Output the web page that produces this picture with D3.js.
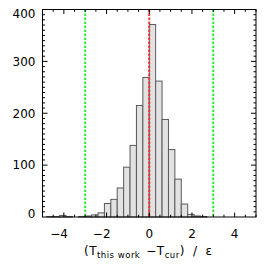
<!DOCTYPE html>
<html>
<head>
<meta charset="utf-8">
<script src="https://cdn.jsdelivr.net/npm/d3@7.9.0/dist/d3.min.js"></script>
<style>
  html, body { margin: 0; padding: 0; background: #fff; }
  svg { display: block; }
  text { font-family: "DejaVu Sans", sans-serif; fill: #000; }
</style>
</head>
<body>
<div id="chart"></div>
<script>
// ---------- Data ----------

// histogram bin edges start at -4.8, width 0.3
const binStart = -4.8;
const binWidth = 0.3;
const counts = [
  1, 1, 3, 1, 0, 1, 2, 4, 8, 26, 34, 56, 96, 138,
  215, 269, 371, 262, 188, 130, 73, 25, 5, 2, 1
];

const xTicks = [-4, -2, 0, 2, 4];
const yTicks = [0, 100, 200, 300, 400];
const limitLines = [-3, 3];   // green dashed
const zeroLine = [0];         // red dashed

// ---------- Layout ----------
const width = 269, height = 265;
const mLeft = 42.5, mRight = 256, mTop = 9.5, mBottom = 217;

const x = d3.scaleLinear().domain([-5, 5]).range([mLeft, mRight]);
const y = d3.scaleLinear().domain([0, 400]).range([mBottom, mTop]);

const svg = d3.select("#chart").append("svg")
  .attr("width", width)
  .attr("height", height);

// bins built from counts
const bins = counts.map((c, i) => ({
  x0: binStart + i * binWidth,
  x1: binStart + (i + 1) * binWidth,
  count: c
}));

// ---------- Bars ----------
svg.append("g")
  .selectAll("rect")
  .data(bins.filter(d => d.count > 0))
  .join("rect")
  .attr("x", d => x(d.x0))
  .attr("y", d => y(d.count))
  .attr("width", d => x(d.x1) - x(d.x0))
  .attr("height", d => y(0) - y(d.count))
  .attr("fill", "#e2e2e2")
  .attr("stroke", "#5a5a5a")
  .attr("stroke-width", 1);

// ---------- Dashed lines ----------
svg.append("g")
  .selectAll("line")
  .data(limitLines)
  .join("line")
  .attr("x1", d => x(d)).attr("x2", d => x(d))
  .attr("y1", mTop).attr("y2", mBottom)
  .attr("stroke", "#38ec38")
  .attr("stroke-width", 2)
  .attr("stroke-dasharray", "2.5,1.5");

svg.append("g")
  .selectAll("line")
  .data(zeroLine)
  .join("line")
  .attr("x1", d => x(d)).attr("x2", d => x(d))
  .attr("y1", mTop).attr("y2", mBottom)
  .attr("stroke", "#f53535")
  .attr("stroke-width", 2)
  .attr("stroke-dasharray", "2.5,1.5");

// ---------- Axes (IDL-style box, inward ticks) ----------
const xMinor = d3.range(-5, 5.001, 0.5).filter(v => !xTicks.includes(v));
const yMinor = d3.range(0, 400.001, 10).filter(v => !yTicks.includes(v));

const axes = svg.append("g").attr("stroke", "#000").attr("stroke-width", 1);

// box
axes.append("rect")
  .attr("x", mLeft).attr("y", mTop)
  .attr("width", mRight - mLeft).attr("height", mBottom - mTop)
  .attr("fill", "none");

function xTickLines(vals, len) {
  vals.forEach(v => {
    axes.append("line").attr("x1", x(v)).attr("x2", x(v))
      .attr("y1", mBottom).attr("y2", mBottom - len);
    axes.append("line").attr("x1", x(v)).attr("x2", x(v))
      .attr("y1", mTop).attr("y2", mTop + len);
  });
}
function yTickLines(vals, len) {
  vals.forEach(v => {
    axes.append("line").attr("y1", y(v)).attr("y2", y(v))
      .attr("x1", mLeft).attr("x2", mLeft + len);
    axes.append("line").attr("y1", y(v)).attr("y2", y(v))
      .attr("x1", mRight).attr("x2", mRight - len);
  });
}
xTickLines(xTicks, 4.5);
xTickLines(xMinor, 2.3);
yTickLines(yTicks.filter(v => v > 0 && v < 400), 5);
yTickLines(yMinor, 2.5);

// tick labels
svg.append("g")
  .selectAll("text")
  .data(xTicks)
  .join("text")
  .attr("x", d => x(d) + (d < 0 ? 4 : 0))
  .attr("y", 237.5)
  .attr("text-anchor", d => d < 0 ? "end" : "middle")
  .attr("font-size", 12)
  .text(d => d < 0 ? "\u2212" + Math.abs(d) : d);

svg.append("g")
  .selectAll("text")
  .data(yTicks)
  .join("text")
  .attr("x", 35.5)
  .attr("y", d => Math.min(Math.max(y(d), mTop + 4.5), mBottom - 3.5))
  .attr("dy", "0.36em")
  .attr("text-anchor", "end")
  .attr("font-size", 12)
  .text(d => d);

// axis title
const title = svg.append("text")
  .attr("x", x(0) - 1)
  .attr("y", 255)
  .attr("text-anchor", "middle")
  .attr("font-size", 12)
  .attr("letter-spacing", 0.5);
title.append("tspan").text("(T");
title.append("tspan").attr("font-size", 8.5).attr("dy", 2.5).text("this work");
title.append("tspan").attr("dy", -2.5).attr("dx", 6).text("\u2212T");
title.append("tspan").attr("font-size", 8.5).attr("dy", 2.5).text("cur");
title.append("tspan").attr("dy", -2.5).text(")");
title.append("tspan").attr("dx", 8).text("/");
title.append("tspan").attr("dx", 8).text("\u03b5");
</script>
</body>
</html>
